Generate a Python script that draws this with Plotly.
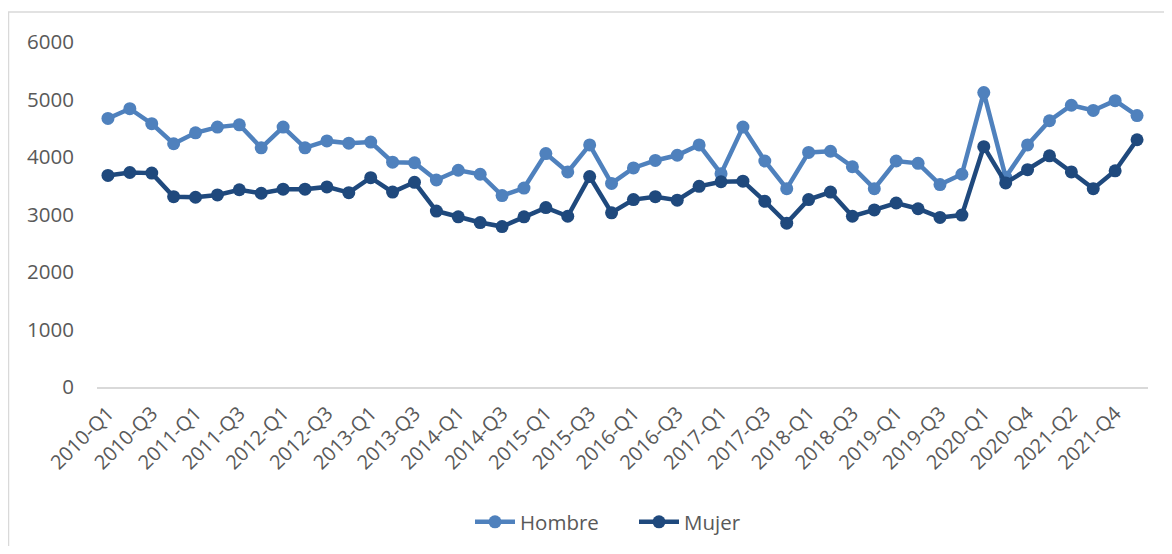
import plotly.graph_objects as go

categories = (
    [f"{y}-Q{q}" for y in range(2010, 2020) for q in (1, 2, 3, 4)]
    + ["2020-Q1", "2020-Q3", "2020-Q4", "2021-Q1", "2021-Q2", "2021-Q3", "2021-Q4", "2022-Q1"]
)

hombre = [4670, 4840, 4580, 4230, 4420, 4520, 4560, 4160,
          4520, 4160, 4280, 4240, 4260, 3910, 3900, 3600,
          3770, 3700, 3330, 3460, 4060, 3740, 4210, 3540,
          3810, 3940, 4030, 4210, 3710, 4520, 3930, 3450,
          4080, 4100, 3830, 3450, 3930, 3890, 3520, 3700,
          5120, 3650, 4210, 4630, 4900, 4810, 4980, 4720]

mujer = [3680, 3730, 3720, 3310, 3300, 3340, 3430, 3370,
         3440, 3440, 3480, 3380, 3640, 3390, 3560, 3060,
         2960, 2860, 2790, 2960, 3120, 2970, 3660, 3030,
         3260, 3310, 3250, 3490, 3570, 3580, 3230, 2850,
         3260, 3390, 2970, 3080, 3200, 3100, 2950, 2990,
         4180, 3550, 3780, 4020, 3740, 3450, 3760, 4300]

tick_labels = categories[::2]

FONT = "Open Sans, Liberation Sans, Arial, sans-serif"
GREY = "#595959"

fig = go.Figure()
fig.add_trace(go.Scatter(
    x=categories, y=hombre, name="Hombre", mode="lines+markers",
    line=dict(color="#4F81BD", width=4.5),
    marker=dict(color="#4F81BD", size=13),
))
fig.add_trace(go.Scatter(
    x=categories, y=mujer, name="Mujer", mode="lines+markers",
    line=dict(color="#1F497D", width=4.5),
    marker=dict(color="#1F497D", size=13),
))

# page has an 8px body margin; figure origin sits at (8, 8)
OFF = 8
W, H = 1156, 538
L, R, T, B = 97 - OFF, 16, 42 - OFF, 159
pw, ph = W - L - R, H - T - B
bottom_px = OFF + H - B  # plot bottom in page pixels

fig.update_layout(
    width=W, height=H,
    margin=dict(l=L, r=R, t=T, b=B, pad=0, autoexpand=False),
    paper_bgcolor="white", plot_bgcolor="white",
    font=dict(family=FONT, color=GREY, size=20),
    showlegend=True,
    legend=dict(
        orientation="h", x=(634 - 97) / pw, xanchor="center",
        y=(bottom_px - 522) / ph, yanchor="middle",
        font=dict(size=20.5, color=GREY), itemwidth=40,
        entrywidth=109, entrywidthmode="pixels",
        bgcolor="rgba(0,0,0,0)",
    ),
    xaxis=dict(
        type="category", range=[-0.5, len(categories) - 0.5],
        tickmode="array", tickvals=tick_labels, ticktext=tick_labels,
        tickangle=-45, showgrid=False, zeroline=False,
        showline=True, linecolor="#D9D9D9", linewidth=1.5,
        ticks="", ticklabelstandoff=5, automargin=False,
        tickfont=dict(size=20, color=GREY, family=FONT),
    ),
    yaxis=dict(
        range=[0, 6000], dtick=1000, tick0=0, showgrid=False,
        zeroline=False, showline=False, ticks="",
        ticklabelstandoff=22, automargin=False,
        tickfont=dict(size=20.5, color=GREY, family=FONT),
    ),
    shapes=[dict(
        type="rect", xref="paper", yref="paper",
        x0=(8.5 - 97) / pw, x1=(1200 - 97) / pw,
        y0=-(B + 30) / ph, y1=(bottom_px - 12) / ph,
        line=dict(color="#D9D9D9", width=1.5), fillcolor="rgba(0,0,0,0)",
        layer="below",
    )],
)

fig.write_html("out.html")
